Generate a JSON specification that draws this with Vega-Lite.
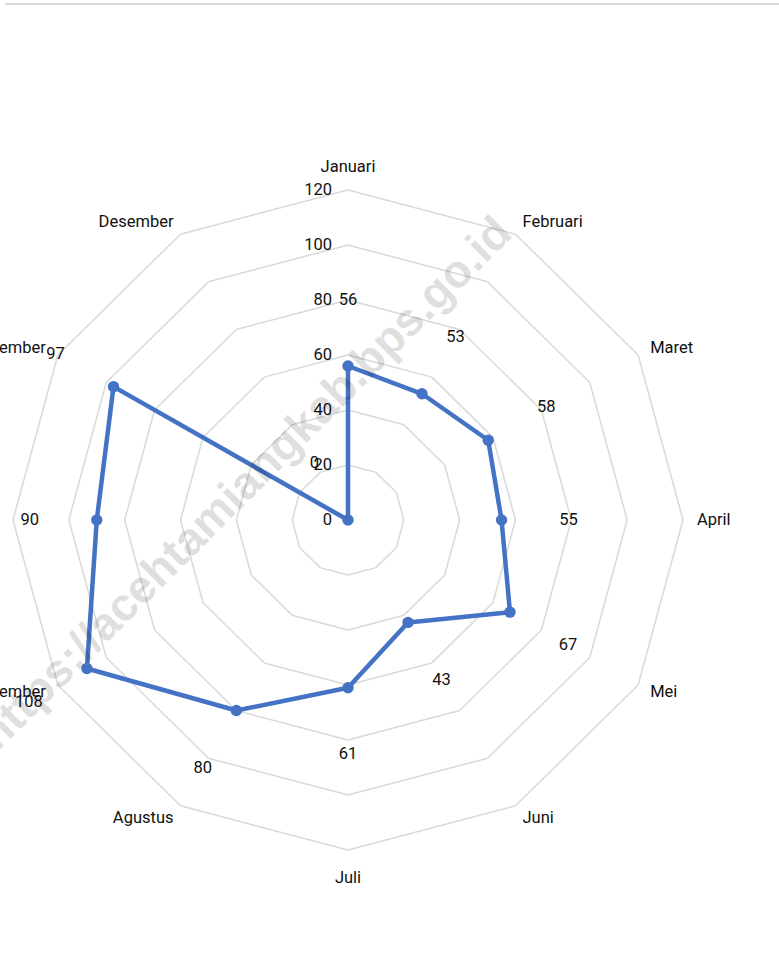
{
  "$schema": "https://vega.github.io/schema/vega-lite/v6.json",
  "width": 779,
  "height": 953,
  "autosize": "none",
  "padding": 0,
  "background": "white",
  "config": {
    "view": {"stroke": null},
    "text": {"font": "Roboto, Liberation Sans, sans-serif", "fontSize": 16.5, "color": "#111111"}
  },
  "datasets": {
    "bulan": [
      {"no": 1, "bulan": "Januari", "nilai": 56},
      {"no": 2, "bulan": "Februari", "nilai": 53},
      {"no": 3, "bulan": "Maret", "nilai": 58},
      {"no": 4, "bulan": "April", "nilai": 55},
      {"no": 5, "bulan": "Mei", "nilai": 67},
      {"no": 6, "bulan": "Juni", "nilai": 43},
      {"no": 7, "bulan": "Juli", "nilai": 61},
      {"no": 8, "bulan": "Agustus", "nilai": 80},
      {"no": 9, "bulan": "September", "nilai": 108},
      {"no": 10, "bulan": "Oktober", "nilai": 90},
      {"no": 11, "bulan": "November", "nilai": 97},
      {"no": 12, "bulan": "Desember", "nilai": 0}
    ]
  },
  "encoding": {
    "x": {"field": "px", "type": "quantitative", "scale": {"domain": [-124.66, 154.39], "nice": false, "zero": false}, "axis": null},
    "y": {"field": "py", "type": "quantitative", "scale": {"domain": [-157.45, 189.09], "nice": false, "zero": false}, "axis": null}
  },
  "layer": [
    {
      "data": {"name": "bulan"},
      "transform": [
        {"calculate": "[20,40,60,80,100,120]", "as": "lv"},
        {"flatten": ["lv"]},
        {"calculate": "(datum.no-1)*PI/6", "as": "t"},
        {"calculate": "datum.lv*sin(datum.t)", "as": "px"},
        {"calculate": "datum.lv*cos(datum.t)", "as": "py"},
        {"calculate": "datum.lv*sin(datum.t+PI/6)", "as": "px2"},
        {"calculate": "datum.lv*cos(datum.t+PI/6)", "as": "py2"}
      ],
      "mark": {"type": "rule", "color": "#d9d9d9", "strokeWidth": 1.5},
      "encoding": {"x2": {"field": "px2"}, "y2": {"field": "py2"}}
    },
    {
      "data": {"values": [{"v": 0}, {"v": 20}, {"v": 40}, {"v": 60}, {"v": 80}, {"v": 100}, {"v": 120}]},
      "transform": [
        {"calculate": "0", "as": "px"},
        {"calculate": "datum.v", "as": "py"}
      ],
      "mark": {"type": "text", "align": "right", "baseline": "middle", "dx": -16},
      "encoding": {"text": {"field": "v"}}
    },
    {
      "data": {"name": "bulan"},
      "transform": [
        {"window": [{"op": "lead", "field": "nilai", "as": "nl"}, {"op": "first_value", "field": "nilai", "as": "nf"}], "sort": [{"field": "no"}], "frame": [null, null]},
        {"calculate": "isValid(datum.nl) ? datum.nl : datum.nf", "as": "nx"},
        {"calculate": "(datum.no-1)*PI/6", "as": "t"},
        {"calculate": "datum.nilai*sin(datum.t)", "as": "px"},
        {"calculate": "datum.nilai*cos(datum.t)", "as": "py"},
        {"calculate": "datum.nx*sin(datum.t+PI/6)", "as": "px2"},
        {"calculate": "datum.nx*cos(datum.t+PI/6)", "as": "py2"}
      ],
      "mark": {"type": "rule", "color": "#4472C4", "strokeWidth": 4.5, "strokeCap": "round"},
      "encoding": {"x2": {"field": "px2"}, "y2": {"field": "py2"}}
    },
    {
      "data": {"name": "bulan"},
      "transform": [
        {"calculate": "(datum.no-1)*PI/6", "as": "t"},
        {"calculate": "datum.nilai*sin(datum.t)", "as": "px"},
        {"calculate": "datum.nilai*cos(datum.t)", "as": "py"}
      ],
      "mark": {"type": "circle", "color": "#4472C4", "size": 130, "opacity": 1}
    },
    {
      "data": {"name": "bulan"},
      "transform": [
        {"calculate": "(datum.no-1)*PI/6", "as": "t"},
        {"calculate": "(datum.nilai+24)*sin(datum.t)", "as": "px"},
        {"calculate": "(datum.nilai+24)*cos(datum.t)", "as": "py"}
      ],
      "mark": {"type": "text", "align": "center", "baseline": "middle"},
      "encoding": {"text": {"field": "nilai"}}
    },
    {
      "data": {"name": "bulan"},
      "transform": [
        {"filter": "datum.no == 1"},
        {"calculate": "0", "as": "px"},
        {"calculate": "126.5", "as": "py"}
      ],
      "mark": {"type": "text", "align": "center", "baseline": "alphabetic"},
      "encoding": {"text": {"field": "bulan"}}
    },
    {
      "data": {"name": "bulan"},
      "transform": [
        {"filter": "datum.no == 7"},
        {"calculate": "0", "as": "px"},
        {"calculate": "-132", "as": "py"}
      ],
      "mark": {"type": "text", "align": "center", "baseline": "alphabetic"},
      "encoding": {"text": {"field": "bulan"}}
    },
    {
      "data": {"name": "bulan"},
      "transform": [
        {"filter": "datum.no >= 2 && datum.no <= 6"},
        {"calculate": "(datum.no-1)*PI/6", "as": "t"},
        {"calculate": "125*sin(datum.t)", "as": "px"},
        {"calculate": "125*cos(datum.t)", "as": "py"}
      ],
      "mark": {"type": "text", "align": "left", "baseline": "middle"},
      "encoding": {"text": {"field": "bulan"}}
    },
    {
      "data": {"name": "bulan"},
      "transform": [
        {"filter": "datum.no >= 8"},
        {"calculate": "(datum.no-1)*PI/6", "as": "t"},
        {"calculate": "125*sin(datum.t)", "as": "px"},
        {"calculate": "125*cos(datum.t)", "as": "py"}
      ],
      "mark": {"type": "text", "align": "right", "baseline": "middle"},
      "encoding": {"text": {"field": "bulan"}}
    },
    {
      "data": {"values": [{"wm": "https://acehtamiangkab.bps.go.id"}]},
      "transform": [
        {"calculate": "-36.6", "as": "px"},
        {"calculate": "13.1", "as": "py"}
      ],
      "mark": {"type": "text", "align": "center", "baseline": "middle", "angle": -45, "font": "Liberation Sans, Arial, sans-serif", "fontWeight": "bold", "fontSize": 46, "color": "#000000", "opacity": 0.12},
      "encoding": {"text": {"field": "wm"}}
    },
    {
      "data": {"values": [{"garis": "atas"}]},
      "transform": [
        {"calculate": "-122.9", "as": "px"},
        {"calculate": "154.39", "as": "px2"},
        {"calculate": "187.6", "as": "py"}
      ],
      "mark": {"type": "rule", "color": "#d9d9d9", "strokeWidth": 2},
      "encoding": {"x2": {"field": "px2"}}
    }
  ]
}
